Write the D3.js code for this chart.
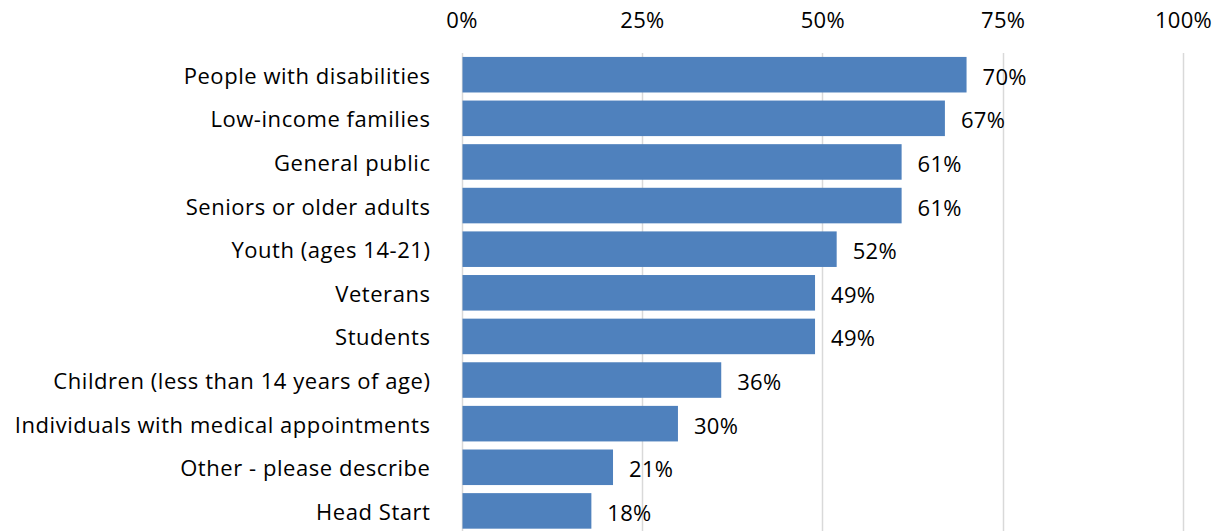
<!DOCTYPE html>
<html><head><meta charset="utf-8">
<script src="https://cdn.jsdelivr.net/npm/d3@7"></script>
<style>body{margin:0;background:#fff}svg{display:block}text{font-family:"Open Sans","Noto Sans",sans-serif;fill:#000}</style>
</head><body>
<svg id="c" width="1221" height="531"></svg>
<script>
const categories = ["People with disabilities","Low-income families","General public","Seniors or older adults","Youth (ages 14-21)","Veterans","Students","Children (less than 14 years of age)","Individuals with medical appointments","Other - please describe","Head Start"];
const values = [70,67,61,61,52,49,49,36,30,21,18];
const tickValues = [0,25,50,75,100];

const svg = d3.select("#c");
const x = d3.scaleLinear().domain([0,100]).range([461.5,1183]);
const y = d3.scaleBand().domain(categories).range([53,532.6]).paddingInner(0.185).paddingOuter(0.09);

// gridlines
svg.append("g").selectAll("line").data(tickValues).join("line")
  .attr("x1",d=>Math.round(x(d))+0.5).attr("x2",d=>Math.round(x(d))+0.5)
  .attr("y1",53).attr("y2",531).attr("stroke","#d9d9d9").attr("stroke-width",1.5);

// top axis labels
const xa = svg.append("g").attr("transform","translate(0,36)")
  .call(d3.axisTop(x).tickValues(tickValues).tickFormat(d=>d+"%").tickSize(0).tickPadding(8));
xa.select(".domain").remove();
xa.selectAll("text").style("font-size","22px").style("letter-spacing","0.3px").attr("fill","#000");

// bars
svg.append("g").selectAll("rect").data(values).join("rect")
  .attr("x",x(0)+1).attr("y",(d,i)=>y(categories[i]))
  .attr("width",d=>x(d)-x(0)-1).attr("height",y.bandwidth()).attr("fill","#4f81bd");

// category labels
const ya = svg.append("g").attr("transform","translate(461.5,0)")
  .call(d3.axisLeft(y).tickSize(0).tickPadding(31));
ya.select(".domain").remove();
ya.selectAll("text").style("font-size","22px").style("letter-spacing","0.55px")
  .attr("dy",null).attr("y",9).attr("fill","#000");

// value labels
svg.append("g").selectAll("text").data(values).join("text")
  .attr("x",d=>x(d)+16).attr("y",(d,i)=>y(categories[i])+y.bandwidth()/2+10)
  .style("font-size","22px").style("letter-spacing","0.3px").text(d=>d+"%");
</script>
</body></html>
